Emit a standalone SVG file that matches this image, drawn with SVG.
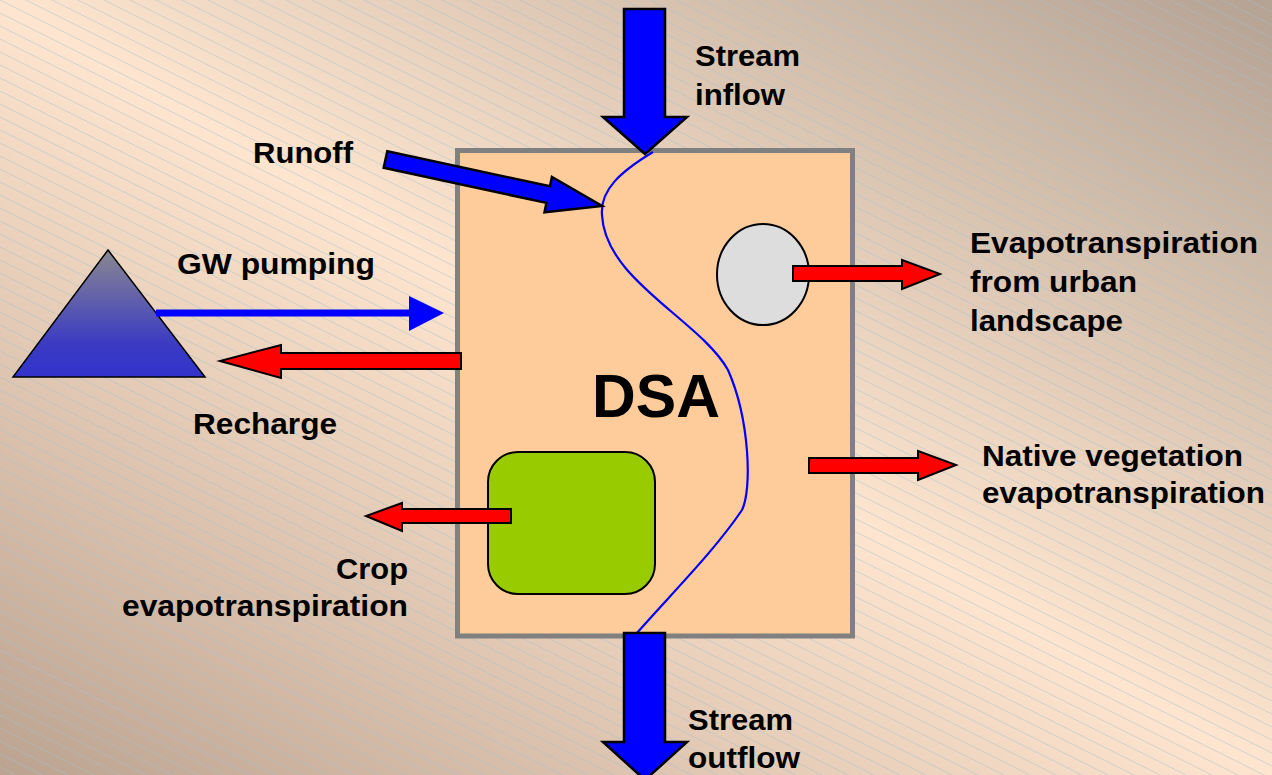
<svg xmlns="http://www.w3.org/2000/svg" width="1272" height="775" viewBox="0 0 1272 775">
  <defs>
    <linearGradient id="bg" x1="1" y1="0" x2="0" y2="1">
      <stop offset="0" stop-color="#b4a293"/>
      <stop offset="0.5" stop-color="#fde5cf"/>
      <stop offset="1" stop-color="#bba391"/>
    </linearGradient>
    <pattern id="hatch" patternUnits="userSpaceOnUse" width="26" height="13">
      <path d="M0,0 L26,13 M0,-13 L26,0 M0,13 L26,26" stroke="#a6bfc6" stroke-width="0.8" opacity="0.6" fill="none"/>
    </pattern>
    <linearGradient id="tri" x1="0" y1="0" x2="0" y2="1">
      <stop offset="0" stop-color="#8a8890"/>
      <stop offset="0.75" stop-color="#3a3ac4"/>
      <stop offset="1" stop-color="#3333cc"/>
    </linearGradient>
    <style>
      .lbl { font-family: "Liberation Sans", Arial, sans-serif; font-weight: bold; font-size: 29px; fill: #000; }
      .big { font-family: "Liberation Sans", Arial, sans-serif; font-weight: bold; font-size: 62px; fill: #000; }
      .blue { fill: #0000ff; stroke: #000; stroke-width: 2.5; stroke-linejoin: miter; }
      .red { fill: #ff0000; stroke: #000; stroke-width: 2; stroke-linejoin: miter; }
    </style>
  </defs>

  <rect x="0" y="0" width="1272" height="775" fill="url(#bg)"/>
  <rect x="0" y="0" width="1272" height="775" fill="url(#hatch)"/>

  <g id="dsa">
    <rect x="457.5" y="150.5" width="395" height="485.5" fill="#fecc9a" stroke="#808080" stroke-width="5"/>
    <text class="big" x="592" y="417" textLength="128" lengthAdjust="spacingAndGlyphs">DSA</text>
  </g>

  <g id="urban">
    <ellipse cx="763" cy="274.5" rx="46" ry="50.5" fill="#dddddd" stroke="#000" stroke-width="2"/>
  </g>

  <g id="crop">
    <rect x="488" y="452" width="167" height="142" rx="30" ry="30" fill="#99cc00" stroke="#000" stroke-width="2"/>
  </g>

  <g id="aquifer">
    <polygon points="108,250 205,377 13,377" fill="url(#tri)" stroke="#000" stroke-width="1.5"/>
  </g>

  <g id="connectors">
    <path id="stream" d="M653,152 C620,172 600,190 602,215 C605,280 700,320 728,370 C750,420 752,490 742,510 C715,550 675,590 636,634" fill="none" stroke="#0000ff" stroke-width="2.2"/>
    <polygon class="blue" points="624,9 665,9 665,117 687,117 645,154 603,117 624,117"/>
    <polygon class="blue" points="624,633 665,633 665,742 687,742 645,780 603,742 624,742"/>
    <polygon class="blue" points="387.3,151.2 550,186.3 551.9,177 602,206 544.5,212.2 546.4,202.9 383.7,167.8"/>
    <g id="gw">
      <rect x="156" y="309.5" width="256" height="7" fill="#0000ff"/>
      <polygon points="409,296 444,313 409,331" fill="#0000ff"/>
    </g>
    <polygon class="red" points="461,353 281,353 281,345 220,361 281,378 281,369 461,369"/>
    <polygon class="red" points="793,266 902,266 902,260 940,274 902,289 902,281 793,281"/>
    <polygon class="red" points="809,458 918,458 918,451 956,465 918,480 918,473 809,473"/>
    <polygon class="red" points="511,509 402,509 402,503 366,516 402,531 402,523 511,523"/>
  </g>

  <g id="labels">
    <text class="lbl" x="695" y="66" textLength="105" lengthAdjust="spacingAndGlyphs">Stream</text>
    <text class="lbl" x="695" y="105" textLength="90" lengthAdjust="spacingAndGlyphs">inflow</text>
    <text class="lbl" x="253" y="163" textLength="100" lengthAdjust="spacingAndGlyphs">Runoff</text>
    <text class="lbl" x="177" y="274" textLength="198" lengthAdjust="spacingAndGlyphs">GW pumping</text>
    <text class="lbl" x="193" y="434" textLength="144" lengthAdjust="spacingAndGlyphs">Recharge</text>
    <text class="lbl" x="970" y="253" textLength="288" lengthAdjust="spacingAndGlyphs">Evapotranspiration</text>
    <text class="lbl" x="970" y="292" textLength="167" lengthAdjust="spacingAndGlyphs">from urban</text>
    <text class="lbl" x="970" y="331" textLength="153" lengthAdjust="spacingAndGlyphs">landscape</text>
    <text class="lbl" x="982" y="466" textLength="261" lengthAdjust="spacingAndGlyphs">Native vegetation</text>
    <text class="lbl" x="982" y="503" textLength="283" lengthAdjust="spacingAndGlyphs">evapotranspiration</text>
    <text class="lbl" x="336" y="579" textLength="72" lengthAdjust="spacingAndGlyphs">Crop</text>
    <text class="lbl" x="122" y="616" textLength="286" lengthAdjust="spacingAndGlyphs">evapotranspiration</text>
    <text class="lbl" x="688" y="730" textLength="105" lengthAdjust="spacingAndGlyphs">Stream</text>
    <text class="lbl" x="688" y="768" textLength="112" lengthAdjust="spacingAndGlyphs">outflow</text>
  </g>
</svg>
